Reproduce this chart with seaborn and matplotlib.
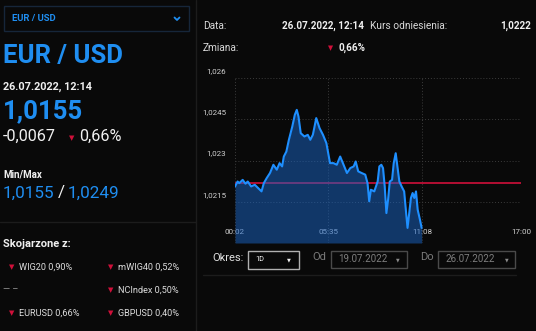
import matplotlib
matplotlib.use("Agg")
import matplotlib.pyplot as plt
import seaborn as sns
import numpy as np
import pandas as pd
from matplotlib.patches import Rectangle
from matplotlib.transforms import ScaledTranslation

# ---------------- data ----------------
minutes = [4, 13, 19, 31, 41, 49, 61, 74, 86, 98, 106, 116, 128, 140, 152, 162,
           171, 177, 186, 195, 207, 216, 223, 229, 237, 250, 262, 271, 280, 286,
           292, 304, 316, 328, 341, 353, 365, 377, 389, 401, 413, 425, 432, 441,
           453, 466, 474, 480, 486, 498, 504, 510, 516, 523, 529, 535, 541, 547,
           553, 561, 567, 574, 580, 587, 595, 604, 611, 616, 622, 628, 634, 640,
           646, 652, 660, 666]
prices = [1.02206, 1.02224, 1.02218, 1.02230, 1.02216, 1.02224, 1.02206, 1.02212,
          1.02200, 1.02188, 1.02218, 1.02236, 1.02255, 1.02285, 1.02267, 1.02291,
          1.02279, 1.02315, 1.02333, 1.02376, 1.02424, 1.02467, 1.02485, 1.02461,
          1.02400, 1.02388, 1.02394, 1.02376, 1.02394, 1.02424, 1.02455, 1.02418,
          1.02394, 1.02364, 1.02291, 1.02291, 1.02285, 1.02315, 1.02285, 1.02255,
          1.02273, 1.02279, 1.02297, 1.02261, 1.02255, 1.02249, 1.02218, 1.02152,
          1.02194, 1.02188, 1.02206, 1.02224, 1.02279, 1.02285, 1.02273, 1.02206,
          1.02109, 1.02158, 1.02224, 1.02230, 1.02291, 1.02327, 1.02279, 1.02224,
          1.02206, 1.02188, 1.02109, 1.02055, 1.02109, 1.02164, 1.02182, 1.02164,
          1.02188, 1.02121, 1.02085, 1.02055]
reference = 1.0222
x_ticks = [2, 335, 668, 1020]
x_labels = ["00:02", "05:35", "11:08", "17:00"]
y_ticks = [1.0215, 1.023, 1.0245, 1.026]
y_labels = ["1,0215", "1,023", "1,0245", "1,026"]

related_left = [("WIG20 0,90%", True), ("— –", False), ("EURUSD 0,66%", True)]
related_right = [("mWIG40 0,52%", True), ("NCIndex 0,50%", True), ("GBPUSD 0,40%", True)]

# ---------------- style ----------------
BG = "#090909"
BLUE = "#1f8ef1"
LINE = "#1e8fff"
RED = "#d0103a"
WHITE = "#f0f0f0"
DIV = "#1c1c1c"

sns.set_theme(style="dark")
plt.rcParams["font.family"] = ["Roboto", "DejaVu Sans"]

W, H = 536, 331
fig = plt.figure(figsize=(W / 100, H / 100), dpi=100, facecolor=BG)

# overlay axes in pixel coordinates
ov = fig.add_axes([0, 0, 1, 1], zorder=0)
ov.set_xlim(0, W)
ov.set_ylim(H, 0)
ov.axis("off")
ov.add_patch(Rectangle((0, 0), W, H, color=BG, zorder=0))

def T(x, y, s, size, color=WHITE, weight="normal", ha="left", va="center", **kw):
    ov.text(x, y, s, fontsize=size, color=color, fontweight=weight, ha=ha, va=va, **kw)

def tri(x, y, size=5):
    ov.text(x, y, "▼", fontsize=size, color=RED, ha="center", va="center",
            family=["DejaVu Sans"])

# dividers
ov.plot([196, 196], [0, H], color=DIV, lw=1)
ov.plot([0, 196], [222, 222], color=DIV, lw=1)
ov.plot([203, 516], [275, 275], color=DIV, lw=1)

# dropdown box
ov.add_patch(Rectangle((3.5, 6), 185.5, 25, fill=False, ec="#16263a", lw=1))
T(12, 18.5, "EUR / USD", 6.8, BLUE, "bold")
ov.plot([174.5, 177, 179.5], [17.5, 20, 17.5], color=BLUE, lw=1.3)

# left panel
T(3, 56, "EUR / USD", 18.5, BLUE, "bold")
T(3, 87, "26.07.2022, 12:14", 7.8, WHITE, "bold")
T(3, 111, "1,0155", 18.5, BLUE, "bold")
T(3, 136, "-0,0067", 11.7, WHITE)
tri(72, 138, 5)
T(79, 136, "0,66%", 11.7, WHITE)
T(3, 175, "Min/Max", 7, WHITE, "bold")
T(3, 193, "1,0155", 12.3, BLUE)
T(58, 193, "/", 12.3, WHITE)
T(68, 193, "1,0249", 12.3, BLUE)
T(3, 244, "Skojarzone z:", 8, WHITE, "bold")
rows_y = [267, 290, 313]
for (s, arrow), y in zip(related_left, rows_y):
    if arrow:
        tri(11.5, y, 5)
        T(19, y, s, 6.6, "#dcdcdc")
    else:
        T(3, y, s, 6.6, "#9a9a9a")
for (s, arrow), y in zip(related_right, rows_y):
    if arrow:
        tri(110.5, y, 5)
    T(118, y, s, 6.6, "#dcdcdc")

# right info
T(203, 26, "Data:", 7.3, "#d8d8d8")
T(363.5, 26, "26.07.2022, 12:14", 7.1, WHITE, "bold", ha="right")
T(370, 26, "Kurs odniesienia:", 7.3, "#d8d8d8")
T(530.5, 26, "1,0222", 7.1, WHITE, "bold", ha="right")
T(203, 48, "Zmiana:", 7.3, "#d8d8d8")
tri(331, 48.5, 4.8)
T(338.5, 48, "0,66%", 7.1, WHITE, "bold")

# controls
T(212.5, 258, "Okres:", 8, "#e0e0e0")
ov.add_patch(Rectangle((248, 250.5), 50.5, 18.5, fill=False, ec="#b0b0b0", lw=1))
T(255, 259.5, "1D", 5.3, WHITE)
ov.text(289, 260, "▼", fontsize=3.6, color=WHITE, ha="center", va="center", family=["DejaVu Sans"])
T(312, 257, "Od", 8, "#7a7a7a")
ov.add_patch(Rectangle((331, 250.5), 75.5, 17, fill=False, ec="#4a4a4a", lw=1))
T(338, 259, "19.07.2022", 7, "#7e7e7e")
ov.text(398, 259.5, "▼", fontsize=3.4, color="#8a8a8a", ha="center", va="center", family=["DejaVu Sans"])
T(420, 257, "Do", 8, "#7a7a7a")
ov.add_patch(Rectangle((438, 250.5), 77, 17, fill=False, ec="#4a4a4a", lw=1))
T(446, 259, "26.07.2022", 7, "#7e7e7e")
ov.text(506.5, 259.5, "▼", fontsize=3.4, color="#8a8a8a", ha="center", va="center", family=["DejaVu Sans"])

# ---------------- chart ----------------
left, right, top, bottom = 234.5, 521.4, 78.3, 243.0
ax = fig.add_axes([left / W, 1 - bottom / H, (right - left) / W, (bottom - top) / H], zorder=2)
ax.set_facecolor("none")
for sp in ax.spines.values():
    sp.set_visible(False)

df = pd.DataFrame({"minute": minutes, "price": prices})
ax.set_xlim(2, 1020)
ax.set_ylim(1.0200, 1.0260)

ax.axhline(reference, color=RED, lw=1.2, zorder=1)
ax.fill_between(df["minute"], df["price"], 1.0200, color="#1a66c8", alpha=0.5, lw=0, zorder=2)
sns.lineplot(data=df, x="minute", y="price", ax=ax, color=LINE, lw=1.5, zorder=3)

ax.set_xticks(x_ticks)
ax.set_xticklabels(x_labels)
ax.set_yticks(y_ticks)
ax.set_yticklabels(y_labels)
ax.set_xlabel("")
ax.set_ylabel("")
ax.grid(True, color="#3c3c3c", linestyle=(0, (1, 2)), lw=0.7, zorder=0)
ax.set_axisbelow(True)
ax.tick_params(axis="x", length=0, pad=-10, colors="#d0d0d0", labelsize=5.8)
ax.tick_params(axis="y", length=0, pad=6, colors="#d0d0d0", labelsize=5.8)
for lbl in ax.get_yticklabels():
    lbl.set_transform(lbl.get_transform() + ScaledTranslation(0, 5.5 / 72, fig.dpi_scale_trans))
    lbl.set_horizontalalignment("right")
for lbl in ax.get_xticklabels():
    lbl.set_zorder(5)

fig.savefig("out.png", dpi=100, facecolor=BG)
